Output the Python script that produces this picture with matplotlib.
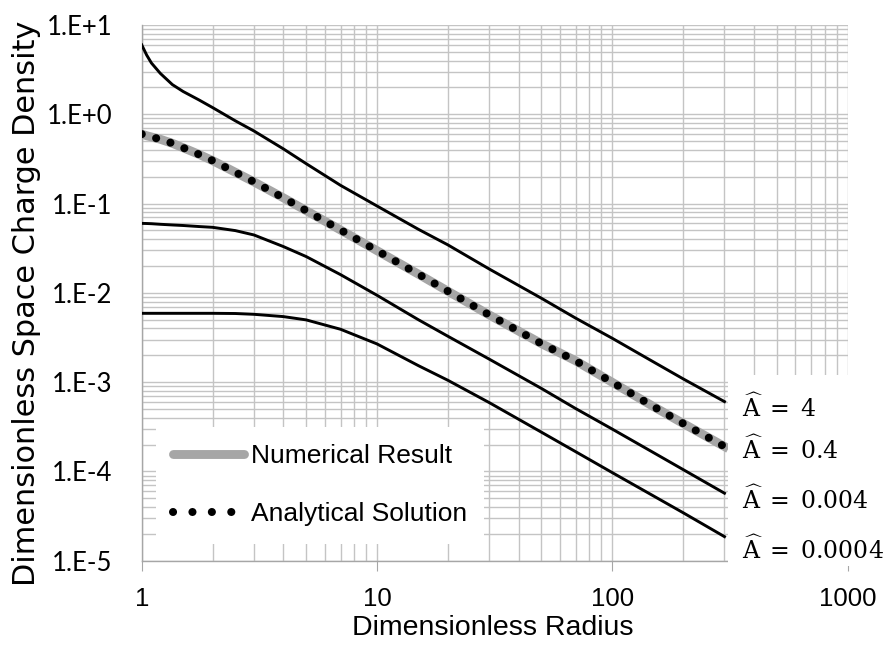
import numpy as np
import matplotlib.pyplot as plt
from matplotlib.lines import Line2D
from matplotlib.patches import Rectangle
from matplotlib.ticker import LogLocator, NullFormatter

plt.rcParams['mathtext.fontset'] = 'dejavuserif'

W, H = 896, 653

def fx(px):
    return px / W

def fy(py):
    return 1 - py / H

# dimensionless radius and space charge density for each A-hat
radius = [1, 1.05, 1.1, 1.2, 1.35, 1.5, 1.75, 2, 2.5, 3, 4, 5, 7, 10, 15,
          20, 30, 50, 70, 100, 150, 200, 300]
rho_4 = [6.0, 4.6, 3.75, 2.87, 2.15, 1.80, 1.45, 1.19, 0.845, 0.65, 0.41,
         0.28, 0.16, 0.094, 0.0515, 0.0345, 0.0185, 0.0087, 0.0052,
         0.0031, 0.00168, 0.00109, 6.05e-4]
rho_04 = [0.60, 0.575, 0.557, 0.525, 0.473, 0.422, 0.356, 0.303, 0.224,
          0.175, 0.116, 0.0834, 0.0506, 0.0297, 0.0162, 0.01045, 0.00566,
          0.0027, 0.00173, 9.95e-4, 5.31e-4, 3.45e-4, 1.90e-4]
rho_0004 = [0.060, 0.0598, 0.0595, 0.0586, 0.0576, 0.0568, 0.0553, 0.0542,
            0.0498, 0.0445, 0.0330, 0.0255, 0.016, 0.0094, 0.0050, 0.00327,
            0.00181, 8.5e-4, 5.05e-4, 2.98e-4, 1.62e-4, 1.05e-4, 5.7e-5]
rho_00004 = [0.0059, 0.0059, 0.0059, 0.0059, 0.0059, 0.0059, 0.0059, 0.0059,
             0.00587, 0.00575, 0.00542, 0.00498, 0.00391, 0.00268, 0.00153,
             0.00105, 5.9e-4, 2.75e-4, 1.66e-4, 9.7e-5, 5.3e-5, 3.45e-5,
             1.86e-5]

curve_labels = ['4', '0.4', '0.004', '0.0004']
label_y = [408, 450, 500, 550]

yticks = [1e-5, 1e-4, 1e-3, 1e-2, 1e-1, 1e0, 1e1]
ytick_labels = ['1.E-5', '1.E-4', '1.E-3', '1.E-2', '1.E-1', '1.E+0', '1.E+1']
xticks = [1, 10, 100, 1000]
xtick_labels = ['1', '10', '100', '1000']

grid_c = '#c4c4c4'
axis_c = '#a6a6a6'
num_c = '#a6a6a6'

fig = plt.figure(figsize=(8.96, 6.53), dpi=100)
ax = fig.add_axes([fx(141.7), fy(560.7), fx(847.5) - fx(141.7), (560.7 - 25) / H])
ax.set_xscale('log')
ax.set_yscale('log')
ax.set_xlim(1, 1000)
ax.set_ylim(1e-5, 10)

for axis in (ax.xaxis, ax.yaxis):
    axis.set_minor_locator(LogLocator(base=10, subs=np.arange(2, 10), numticks=20))
    axis.set_minor_formatter(NullFormatter())
ax.grid(True, which='both', color=grid_c, lw=1.0)
ax.set_axisbelow(True)

for s in ('top', 'right'):
    ax.spines[s].set_visible(False)
for s in ('left', 'bottom'):
    ax.spines[s].set_color(axis_c)
    ax.spines[s].set_linewidth(1.0)

ax.set_yticks(yticks)
ax.set_yticklabels(ytick_labels, family='Lato', fontsize=18.5)
ax.set_xticks(xticks)
ax.set_xticklabels(xtick_labels, family='Liberation Sans', fontsize=18.5)
ax.tick_params(axis='y', which='both', length=0, pad=21)
ax.tick_params(axis='x', which='major', length=7, color=axis_c, direction='out', pad=12)
ax.tick_params(axis='x', which='minor', length=0)

# solid curves
for rho in (rho_4, rho_0004, rho_00004):
    ax.plot(radius, rho, color='black', lw=2.1, zorder=3)

# A = 0.4: numerical (thick grey) with analytical dots on top
ax.plot(radius, rho_04, color=num_c, lw=6.4, zorder=3)
ax.plot(radius, rho_04, color='black', lw=5.8, linestyle=(0, (0.01, 1.85)),
        dash_capstyle='round', zorder=4)

fig.text(fx(27), fy(303), 'Dimensionless Space Charge Density', rotation=90,
         ha='center', va='center', family='DejaVu Sans', fontsize=21.8)
fig.text(fx(493), fy(628), 'Dimensionless Radius', ha='center', va='center',
         family='Liberation Sans', fontsize=20.5)

h_num = Line2D([], [], color=num_c, lw=6.4, solid_capstyle='round')
h_ana = Line2D([], [], color='black', lw=5.8, linestyle=(0, (0.01, 2.4)),
               dash_capstyle='round')
leg = ax.legend([h_num, h_ana], ['Numerical Result', 'Analytical Solution'],
                loc='upper left', bbox_to_anchor=(fx(156), fy(427)),
                bbox_transform=fig.transFigure, frameon=True, fancybox=False,
                edgecolor='none', facecolor='white', framealpha=1,
                prop={'family': 'Liberation Sans', 'size': 19},
                handlelength=2.7, handletextpad=0.25, labelspacing=1.3,
                borderpad=0.65, borderaxespad=0)
leg.set_zorder(5)

# blank area holding the curve labels
fig.add_artist(Rectangle((fx(728), fy(566)), fx(W) - fx(728), (566 - 375) / H,
                         transform=fig.transFigure, facecolor='white',
                         edgecolor='none', zorder=1))
for lab, py in zip(curve_labels, label_y):
    fig.text(fx(742), fy(py), r'$\widehat{\mathrm{A}}\;=\;' + lab + '$',
             ha='left', va='center', fontsize=17, zorder=2)

fig.savefig('out.png', dpi=100)
